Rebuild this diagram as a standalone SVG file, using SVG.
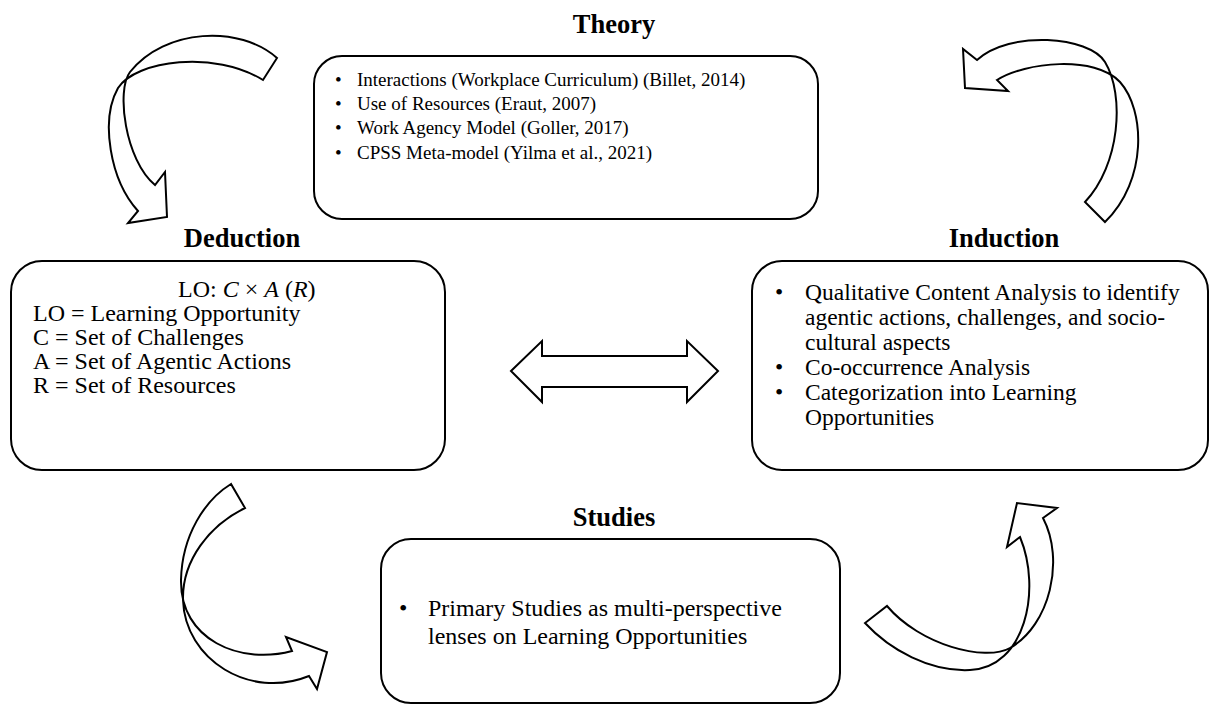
<svg xmlns="http://www.w3.org/2000/svg" width="1216" height="704" viewBox="0 0 1216 704">
<style>
.box{fill:#fff;stroke:#000;stroke-width:2}
.arr{fill:#fff;stroke:#000;stroke-width:2;stroke-linejoin:miter}
.t{font-family:"Liberation Serif","Times New Roman",serif;font-size:24px;fill:#000}
.ti{font-family:"Liberation Serif","Times New Roman",serif;font-size:23.5px;fill:#000}
.th{font-family:"Liberation Serif","Times New Roman",serif;font-size:19px;fill:#000}
.h{font-family:"Liberation Serif","Times New Roman",serif;font-size:26.5px;font-weight:bold;fill:#000}
.i{font-style:italic}
</style>
<rect width="1216" height="704" fill="#fff"/>
<g id="connectors">
<path class="arr" d="M277,58 C240,25 165,28 130,72 C116,90 125,160 155,185 L165,172 L167,217 L128,223 L138,211 C110,180 100,120 118,88 C136,60 215,50 263,80 Z"/>
<path class="arr" d="M977,60 L963,49 L965,88 L1008,91 L997,80 C1025,62 1095,55 1120,82 C1145,110 1148,180 1105,222 L1085,202 C1120,165 1125,95 1105,62 C1089,36 1010,30 977,60 Z"/>
<path class="arr" d="M231,484 C205,500 182,535 181,580 C180,640 240,665 292,651 L286,637 L327,652 L317,689 L309,676 C250,700 185,660 183,600 C182,560 210,525 245,508 Z"/>
<path class="arr" d="M865,623 C890,650 930,672 970,670 C1025,668 1042,590 1020,537 L1007,547 L1017,503 L1057,508 L1043,518 C1065,560 1050,625 1010,648 C985,662 920,645 887,606 Z"/>
<path class="arr" d="M511,371 L542,341 L542,356 L687,356 L687,341 L718,371 L687,402 L687,387 L542,387 L542,402 Z"/>
</g>
<g id="theory">
<text class="h" x="614" y="33" text-anchor="middle">Theory</text>
<rect class="box" x="314" y="56" width="504" height="163" rx="28"/>
<text class="th" x="335" y="86">•</text><text class="th" x="357" y="86">Interactions (Workplace Curriculum) (Billet, 2014)</text>
<text class="th" x="335" y="110">•</text><text class="th" x="357" y="110">Use of Resources (Eraut, 2007)</text>
<text class="th" x="335" y="134">•</text><text class="th" x="357" y="134">Work Agency Model (Goller, 2017)</text>
<text class="th" x="335" y="159">•</text><text class="th" x="357" y="159">CPSS Meta-model (Yilma et al., 2021)</text>
</g>
<g id="deduction">
<text class="h" x="242" y="247" text-anchor="middle">Deduction</text>
<rect class="box" x="11" y="261" width="434" height="209" rx="31"/>
<text class="t" x="178" y="297">LO: <tspan class="i">C</tspan>  × <tspan class="i">A</tspan> (<tspan class="i">R</tspan>)</text>
<text class="t" x="33" y="321">LO = Learning Opportunity</text>
<text class="t" x="33" y="345">C = Set of Challenges</text>
<text class="t" x="33" y="369">A = Set of Agentic Actions</text>
<text class="t" x="33" y="393">R = Set of Resources</text>
</g>
<g id="induction">
<text class="h" x="1004" y="247" text-anchor="middle">Induction</text>
<rect class="box" x="752" y="261" width="456" height="209" rx="30"/>
<text class="ti" x="775" y="300">•</text><text class="ti" x="805" y="300">Qualitative Content Analysis to identify</text>
<text class="ti" x="805" y="325">agentic actions, challenges, and socio-</text>
<text class="ti" x="805" y="350">cultural aspects</text>
<text class="ti" x="775" y="375">•</text><text class="ti" x="805" y="375">Co-occurrence Analysis</text>
<text class="ti" x="775" y="400">•</text><text class="ti" x="805" y="400">Categorization into Learning</text>
<text class="ti" x="805" y="425">Opportunities</text>
</g>
<g id="studies">
<text class="h" x="614" y="526" text-anchor="middle">Studies</text>
<rect class="box" x="381" y="539" width="459" height="164" rx="30"/>
<text class="t" x="399" y="616">•</text><text class="t" x="428" y="616">Primary Studies as multi-perspective</text>
<text class="t" x="428" y="644">lenses on Learning Opportunities</text>
</g>
</svg>
